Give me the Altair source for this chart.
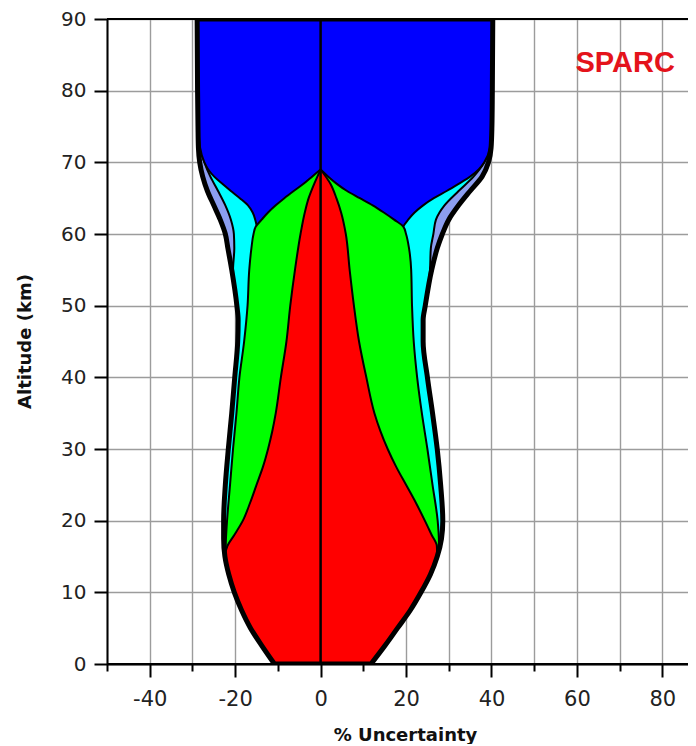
import altair as alt
import pandas as pd

# ---- data ----
Z_OUT = [0, 2.5, 5, 7.5, 10, 12.5, 15, 17.5, 20, 25, 30, 35, 40, 45, 48, 50, 55, 58, 60, 62, 64, 66, 68, 70, 72, 75, 80, 90]
OUT_L = [-10.8, -13.7, -16.4, -18.5, -20.2, -21.5, -22.4, -22.7, -22.7, -22.3, -21.6, -20.8, -20.1, -19.4, -19.3, -19.6,
         -20.8, -21.7, -22.3, -23.5, -25.0, -26.5, -27.6, -28.3, -28.6, -28.7, -28.8, -28.9]
OUT_R = [11.8, 15.0, 18.0, 21.0, 23.5, 25.7, 27.3, 28.3, 28.6, 28.1, 27.3, 26.2, 25.0, 24.0, 24.0, 24.5,
         26.0, 27.3, 28.5, 30.0, 32.3, 35.0, 37.8, 39.3, 39.9, 40.1, 40.2, 40.3]
CYAN_L = [-10.8, -13.7, -16.4, -18.5, -20.2, -21.5, -22.4, -22.7, -22.7, -22.3, -21.6, -20.8, -20.1, -19.4, -19.3, -19.6,
          -20.5, -20.2, -20.3, -21.0, -22.3, -24.0, -25.8, -27.2, -28.2, -28.6, -28.8, -28.9]
CYAN_R = [11.8, 15.0, 18.0, 21.0, 23.5, 25.7, 27.3, 28.3, 28.6, 28.1, 27.3, 26.2, 25.0, 24.0, 24.0, 24.5,
          25.6, 25.8, 26.4, 27.0, 29.0, 32.3, 35.8, 38.3, 39.6, 40.0, 40.2, 40.3]

Z_BLUE = [55, 58, 60, 61, 62, 63, 64, 65, 66, 67, 68, 69, 70, 72, 75, 80, 90]
BLUE_L = [-14.0, -14.2, -14.5, -14.9, -15.3, -15.9, -17.0, -18.9, -21.0, -23.0, -24.9, -26.3, -27.2, -28.2, -28.6, -28.8, -28.9]
BLUE_R = [18.0, 18.3, 18.8, 19.3, 20.5, 22.0, 24.0, 26.5, 29.5, 32.3, 35.0, 37.0, 38.3, 39.6, 40.0, 40.2, 40.3]

Z_GREEN = [14, 15.5, 17, 20, 25, 30, 35, 40, 45, 50, 55, 58, 60, 61, 62, 63, 64, 65, 66, 67, 68, 69]
GREEN_L = [-21.5, -22.3, -22.2, -21.9, -21.2, -20.5, -19.7, -19.0, -17.9, -17.1, -16.7, -16.2, -15.7, -15.2,
           -13.8, -12.3, -10.5, -8.5, -6.3, -4.0, -2.0, 0.0]
GREEN_R = [26.5, 27.3, 27.7, 27.4, 26.2, 25.0, 23.7, 22.6, 21.8, 21.4, 21.2, 20.7, 20.0, 19.4,
           17.2, 14.8, 12.2, 9.2, 6.2, 3.8, 1.8, 0.0]

Z_RED = [0, 2.5, 5, 7.5, 10, 12.5, 15, 16.5, 18, 20, 22.5, 25, 27.5, 30, 32.5, 35, 40, 45, 50, 55, 60, 63, 65, 67, 69]
RED_L = [-10.8, -13.7, -16.4, -18.5, -20.2, -21.5, -22.4, -21.8, -20.2, -18.2, -16.5, -15.0, -13.5, -12.3, -11.3,
         -10.5, -9.3, -8.0, -7.1, -6.0, -4.7, -3.7, -2.8, -1.5, 0.0]
RED_R = [11.8, 15.0, 18.0, 21.0, 23.5, 25.7, 27.3, 27.2, 26.0, 24.4, 22.3, 20.0, 17.7, 15.7, 14.0, 12.6, 10.7,
         9.0, 7.8, 6.8, 5.9, 4.8, 3.7, 2.3, 0.0]

X_MAJOR = [-40, -20, 0, 20, 40, 60, 80]
X_MINOR = [-50, -30, -10, 10, 30, 50, 70]
Y_TICKS = [0, 10, 20, 30, 40, 50, 60, 70, 80, 90]
LABEL_TEXT = ["SPARC"]
LABEL_X = [71.3]
LABEL_Y = [83.8]


def frame(z, left, right):
    return pd.DataFrame({"z": z, "l": left, "r": right})


xs = alt.Scale(domain=[-50, 86], nice=False, zero=False)
ys = alt.Scale(domain=[0, 90], nice=False, zero=False)

FONT = "DejaVu Sans"
GRID = "#9c9c9c"

x_axis = alt.Axis(
    orient="bottom", values=X_MAJOR, tickSize=13, labelExpr="'' + datum.value",
    grid=True, gridColor=GRID, gridWidth=1.4,
    domainColor="black", domainWidth=2, tickColor="black", tickWidth=2,
    labelFont=FONT, labelFontSize=21, labelColor="#222222", labelPadding=11,
    title="% Uncertainty", titleFont=FONT, titleFontSize=18, titleFontWeight="bold",
    titleColor="#111111", titleX=298, titleY=71, titleBaseline="middle",
)
x_axis_minor = alt.Axis(
    orient="bottom", values=X_MINOR, tickSize=7,
    grid=True, gridColor=GRID, gridWidth=1.4,
    domain=False, tickColor="black", tickWidth=2,
    labels=False, title=None,
)
y_axis = alt.Axis(
    orient="left", values=Y_TICKS, tickSize=13,
    grid=True, gridColor=GRID, gridWidth=1.4,
    domainColor="black", domainWidth=2, tickColor="black", tickWidth=2,
    labelFont=FONT, labelFontSize=20, labelColor="#222222", labelPadding=8,
    title="Altitude (km)", titleFont=FONT, titleFontSize=18, titleFontWeight="bold",
    titleColor="#111111", titleX=-82, titleY=322, titleBaseline="middle", titleAlign="center",
)


def band(df, color, xaxis=None, yaxis=None, sw=2.0):
    xenc = alt.X("l:Q", scale=xs, axis=xaxis) if xaxis is not None else alt.X("l:Q", scale=xs, axis=None)
    yenc = alt.Y("z:Q", scale=ys, axis=yaxis) if yaxis is not None else alt.Y("z:Q", scale=ys, axis=None)
    return alt.Chart(df).mark_area(
        orient="horizontal", interpolate="monotone", color=color,
        stroke="black", strokeWidth=sw, strokeJoin="round",
    ).encode(x=xenc, x2="r:Q", y=yenc)


outer_df = frame(Z_OUT, OUT_L, OUT_R)
lav = band(outer_df, "#8c9ef0", xaxis=x_axis, yaxis=y_axis)
cyan = band(frame(Z_OUT, CYAN_L, CYAN_R), "#00ffff", xaxis=x_axis_minor)
blue = band(frame(Z_BLUE, BLUE_L, BLUE_R), "#0000ff")
green = band(frame(Z_GREEN, GREEN_L, GREEN_R), "#00ff00")
red = band(frame(Z_RED, RED_L, RED_R), "#ff0000")

outline = alt.Chart(outer_df).mark_area(
    orient="horizontal", interpolate="monotone", fillOpacity=0, clip=True,
    stroke="black", strokeWidth=5, strokeJoin="round",
).encode(
    x=alt.X("l:Q", scale=xs, axis=None), x2="r:Q",
    y=alt.Y("z:Q", scale=ys, axis=None),
)

center = alt.Chart(pd.DataFrame({"v": [0]})).mark_rule(color="black", strokeWidth=2.5).encode(
    x=alt.X("v:Q", scale=xs, axis=None)
)
frame_rules = alt.Chart(pd.DataFrame({"v": [0, 90]})).mark_rule(color="black", strokeWidth=2).encode(
    y=alt.Y("v:Q", scale=ys, axis=None)
)

label = alt.Chart(pd.DataFrame({"x": LABEL_X, "y": LABEL_Y, "t": LABEL_TEXT})).mark_text(
    color="#e4131b", font="Liberation Sans", fontSize=29, fontWeight="bold",
    align="center", baseline="middle",
).encode(
    x=alt.X("x:Q", scale=xs, axis=None),
    y=alt.Y("y:Q", scale=ys, axis=None),
    text="t:N",
)

chart = alt.layer(lav, cyan, blue, green, red, center, outline, frame_rules, label).resolve_axis(
    x="independent", y="independent"
).properties(
    width=581, height=645,
    autosize=alt.AutoSizeParams(type="none"),
    padding={"left": 99, "top": 11, "right": 0, "bottom": 80},
    background="white",
).configure_view(strokeWidth=0)

chart.save("out.html", embed_options={"renderer": "svg", "actions": False})
